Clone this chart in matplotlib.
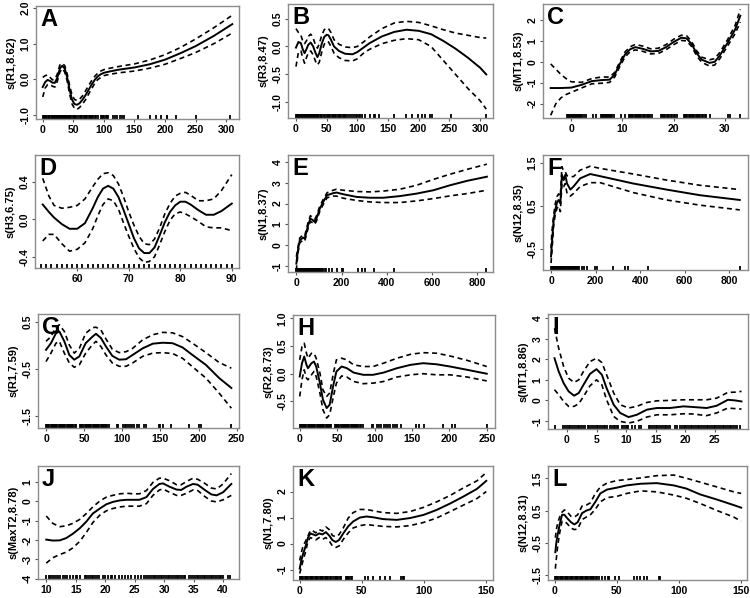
import matplotlib
matplotlib.use('Agg')
import matplotlib.pyplot as plt
from matplotlib import font_manager as fm

# pick the first family that really has a bold face installed
bold_family = 'DejaVu Sans'
for fam in ['Liberation Sans', 'Roboto', 'Noto Sans', 'Open Sans', 'Lato', 'Inter']:
    try:
        path = fm.findfont(fm.FontProperties(family=fam, weight='bold'), fallback_to_default=False)
    except Exception:
        continue
    if 'bold' in path.lower():
        bold_family = fam
        break
plt.rcParams['font.family'] = [bold_family, 'DejaVu Sans']
plt.rcParams['font.weight'] = 'bold'

# ---- panel A : s(R1,8.62)
a_x = [0, 4, 8, 12, 16, 20, 24, 28, 32, 36, 40, 44, 48, 52, 56, 60, 65, 70, 75, 80, 85, 90, 95, 100, 110, 125, 150, 175, 200, 225, 250, 280, 310]
a_fit = [-0.22, -0.08, -0.02, -0.05, -0.1, -0.1, 0.05, 0.3, 0.38, 0.3, 0.05, -0.3, -0.58, -0.7, -0.72, -0.68, -0.58, -0.45, -0.3, -0.15, -0.02, 0.08, 0.14, 0.18, 0.22, 0.27, 0.33, 0.42, 0.55, 0.73, 0.93, 1.22, 1.55]
a_hi = [0.05, 0.1, 0.12, 0.05, -0.02, 0.0, 0.15, 0.4, 0.45, 0.38, 0.15, -0.18, -0.45, -0.57, -0.6, -0.57, -0.47, -0.33, -0.18, -0.04, 0.08, 0.17, 0.23, 0.27, 0.31, 0.36, 0.43, 0.54, 0.69, 0.89, 1.13, 1.45, 1.8]
a_lo = [-0.5, -0.25, -0.15, -0.15, -0.2, -0.22, -0.05, 0.2, 0.3, 0.2, -0.05, -0.42, -0.7, -0.82, -0.85, -0.8, -0.7, -0.58, -0.42, -0.27, -0.12, -0.01, 0.05, 0.1, 0.14, 0.18, 0.23, 0.31, 0.42, 0.58, 0.75, 1.0, 1.3]
a_rug = [0, 2, 3, 5, 6, 8, 10, 11, 13, 15, 16, 18, 20, 21, 23, 25, 26, 28, 30, 31, 33, 35, 36, 38, 40, 41, 43, 45, 47, 49, 51, 53, 55, 57, 61, 63, 65, 67, 69, 71, 73, 75, 77, 79, 81, 83, 85, 87, 91, 95, 97, 99, 101, 103, 105, 107, 115, 118, 122, 126, 130, 133, 156, 176, 185, 194, 203, 204, 218, 250, 306]

# ---- panel B : s(R3,8.47)
b_x = [0, 4, 8, 11, 14, 17, 20, 24, 28, 32, 35, 38, 42, 46, 50, 53, 57, 62, 70, 80, 92, 100, 110, 120, 140, 160, 180, 200, 220, 240, 260, 280, 300, 310]
b_fit = [-0.02, 0.08, 0.06, -0.05, -0.12, -0.05, 0.03, 0.07, 0.0, -0.12, -0.19, -0.12, 0.05, 0.17, 0.21, 0.2, 0.12, 0.0, -0.08, -0.13, -0.14, -0.1, -0.02, 0.06, 0.18, 0.26, 0.3, 0.28, 0.22, 0.1, -0.04, -0.2, -0.38, -0.5]
b_hi = [0.32, 0.25, 0.2, 0.1, 0.05, 0.1, 0.18, 0.22, 0.15, 0.02, -0.03, 0.05, 0.2, 0.3, 0.33, 0.32, 0.25, 0.12, 0.04, -0.01, -0.02, 0.0, 0.08, 0.17, 0.32, 0.42, 0.45, 0.43, 0.37, 0.3, 0.24, 0.2, 0.16, 0.15]
b_lo = [-0.36, -0.1, -0.08, -0.2, -0.3, -0.2, -0.12, -0.08, -0.15, -0.27, -0.33, -0.28, -0.1, 0.04, 0.09, 0.08, 0.0, -0.12, -0.2, -0.25, -0.26, -0.22, -0.12, -0.05, 0.05, 0.11, 0.14, 0.12, 0.0, -0.25, -0.5, -0.75, -0.97, -1.12]
b_rug = [0, 2, 3, 5, 6, 8, 10, 11, 13, 15, 16, 18, 20, 21, 23, 25, 26, 28, 30, 31, 33, 35, 36, 38, 40, 41, 43, 45, 48, 50, 52, 54, 56, 58, 60, 62, 64, 66, 68, 70, 72, 74, 76, 78, 80, 82, 85, 88, 91, 94, 97, 100, 103, 105, 108, 112, 120, 127, 129, 136, 159, 180, 189, 199, 206, 210, 218, 221, 252, 309]

# ---- panel C : s(MT1,8.53)
c_x = [-4, -3, -2, -1, 0, 2, 4, 6, 7.5, 8.5, 9.5, 10.5, 11.5, 12.5, 14, 15.5, 17, 18.5, 20, 21.5, 22.5, 23.5, 24.5, 25.5, 27, 28, 29, 30.5, 32, 33]
c_fit = [-1.25, -1.25, -1.25, -1.24, -1.23, -1.1, -0.92, -0.87, -0.85, -0.6, -0.1, 0.35, 0.6, 0.7, 0.62, 0.5, 0.52, 0.7, 0.95, 1.15, 1.12, 0.85, 0.4, 0.1, -0.05, 0.0, 0.3, 0.9, 1.55, 2.2]
c_hi = [-0.1, -0.35, -0.6, -0.8, -0.95, -0.98, -0.8, -0.72, -0.73, -0.5, 0.0, 0.47, 0.72, 0.83, 0.75, 0.62, 0.65, 0.82, 1.08, 1.27, 1.25, 0.97, 0.52, 0.22, 0.1, 0.15, 0.45, 1.05, 1.75, 2.5]
c_lo = [-2.55, -2.0, -1.72, -1.56, -1.46, -1.25, -1.05, -1.02, -0.98, -0.72, -0.22, 0.23, 0.48, 0.57, 0.5, 0.38, 0.4, 0.58, 0.82, 1.02, 1.0, 0.73, 0.28, -0.03, -0.2, -0.15, 0.15, 0.75, 1.35, 1.9]
c_rug = [-0.8, -0.6, -0.4, -0.2, 0.0, 0.2, 0.4, 0.6, 0.8, 1.0, 1.2, 1.4, 1.6, 1.8, 2.0, 2.2, 2.5, 2.9, 4.2, 4.8,
         5.8, 6.0, 6.2, 6.4, 6.6, 6.8, 7.0, 7.2, 7.4, 7.6, 7.8, 8.0, 8.4, 9.8, 10.5,
         11.3, 11.5, 11.7, 11.9, 12.1, 12.4, 12.6, 12.8, 13.0, 13.3, 13.5, 13.7, 14.0, 14.2, 14.4, 14.7, 14.9, 15.1, 15.4, 15.8,
         17.5, 17.7, 17.9, 18.1, 18.4, 18.6, 18.9, 19.1, 19.4, 19.7, 20.0, 20.3, 20.6,
         22.0, 22.2, 22.4, 22.6, 22.9, 23.1, 23.3, 23.6, 23.8, 24.0, 24.3, 24.5, 24.7, 25.0, 25.2, 25.5, 25.8, 26.1, 26.4, 27.0,
         30.5, 31.0, 33.0]

# ---- panel D : s(H3,6.75)
d_x = [53.3, 54.5, 55.5, 57, 58.5, 60, 61.5, 63, 64, 65, 66, 67, 68, 69, 70, 71, 72, 73, 74, 75, 76, 77, 78, 79, 80, 81, 82, 83.5, 85, 86.5, 88, 90]
d_fit = [0.16, 0.08, 0.02, -0.05, -0.1, -0.1, -0.04, 0.12, 0.24, 0.33, 0.36, 0.33, 0.24, 0.1, -0.05, -0.2, -0.31, -0.36, -0.36, -0.3, -0.17, -0.03, 0.08, 0.15, 0.19, 0.19, 0.16, 0.1, 0.05, 0.05, 0.09, 0.17]
d_hi = [0.44, 0.25, 0.15, 0.12, 0.13, 0.15, 0.22, 0.35, 0.43, 0.49, 0.5, 0.47, 0.38, 0.24, 0.08, -0.06, -0.18, -0.26, -0.27, -0.21, -0.09, 0.06, 0.17, 0.25, 0.28, 0.29, 0.26, 0.2, 0.2, 0.22, 0.31, 0.48]
d_lo = [-0.23, -0.16, -0.16, -0.26, -0.34, -0.32, -0.25, -0.1, 0.04, 0.16, 0.22, 0.2, 0.11, -0.04, -0.18, -0.31, -0.41, -0.46, -0.45, -0.4, -0.27, -0.13, -0.01, 0.06, 0.08, 0.06, 0.03, -0.02, -0.08, -0.09, -0.09, -0.12]
d_rug = [53, 54, 55, 56, 57, 58, 59, 60, 61, 62, 63, 64, 65, 66, 67, 68, 69, 70, 71, 72, 73, 74, 75, 76, 77, 78, 79, 80, 81, 82, 83, 84, 85, 86, 87, 88, 89, 90]

# ---- panel E : s(N1,8.37)
e_x = [0, 7, 15, 30, 37, 52, 62, 74, 81, 89, 104, 119, 136, 163, 178, 207, 267, 326, 385, 459, 533, 607, 681, 756, 844]
e_fit = [-0.88, -0.24, 0.24, 0.37, 0.32, 0.96, 1.28, 1.2, 1.12, 1.28, 1.76, 2.08, 2.4, 2.5, 2.53, 2.45, 2.32, 2.28, 2.28, 2.36, 2.48, 2.64, 2.88, 3.09, 3.29]
e_hi = [-0.55, -0.1, 0.35, 0.5, 0.45, 1.1, 1.42, 1.32, 1.25, 1.4, 1.88, 2.2, 2.52, 2.64, 2.69, 2.64, 2.58, 2.56, 2.6, 2.69, 2.88, 3.16, 3.41, 3.64, 3.89]
e_lo = [-1.2, -0.38, 0.12, 0.25, 0.2, 0.82, 1.14, 1.08, 1.0, 1.16, 1.64, 1.96, 2.28, 2.36, 2.36, 2.26, 2.15, 2.08, 2.05, 2.05, 2.13, 2.24, 2.37, 2.48, 2.64]
e_rug = [0, 3, 6, 9, 12, 15, 18, 21, 24, 27, 30, 33, 36, 39, 42, 45, 48, 51, 54, 57, 60, 63, 66, 70, 74, 78, 82, 86, 90, 94, 98, 102, 106, 110, 114, 118, 127, 133, 144, 156, 181, 200, 207, 274, 289, 304, 344, 433, 841]

# ---- panel F : s(N12,8.35)
f_x = [0, 4, 12, 19, 27, 34, 42, 49, 57, 64, 72, 87, 101, 131, 176, 221, 370, 519, 669, 848]
f_fit = [-0.67, -0.36, 0.18, 0.41, 0.58, 0.64, 0.56, 1.22, 1.1, 1.22, 1.02, 0.88, 0.95, 1.14, 1.24, 1.19, 1.02, 0.88, 0.75, 0.64]
f_hi = [-0.48, -0.1, 0.29, 0.55, 0.72, 0.78, 0.72, 1.41, 1.3, 1.29, 1.2, 1.18, 1.18, 1.33, 1.42, 1.37, 1.24, 1.1, 0.98, 0.88]
f_lo = [-0.82, -0.55, 0.06, 0.3, 0.45, 0.5, 0.37, 1.02, 0.95, 1.02, 0.79, 0.73, 0.79, 0.95, 1.04, 1.04, 0.81, 0.64, 0.52, 0.41]
f_rug = [0, 3, 6, 9, 12, 15, 18, 21, 24, 27, 30, 33, 36, 39, 42, 45, 48, 51, 54, 57, 60, 64, 68, 72, 76, 80, 84, 88, 92, 96, 100, 104, 108, 112, 116, 120, 124, 139, 149, 161, 199, 206, 278, 333, 348, 434, 851]

# ---- panel G : s(R1,7.59)
g_x = [0, 6.5, 13, 17.5, 24, 30.6, 37, 43.7, 52, 61, 65.5, 72, 78.6, 87, 96, 105, 113.5, 126.6, 140, 153, 166, 179, 192, 209.6, 227, 243]
g_fit = [-0.1, 0.04, 0.25, 0.29, 0.08, -0.21, -0.31, -0.24, 0.04, 0.18, 0.24, 0.15, -0.03, -0.23, -0.31, -0.3, -0.21, -0.07, 0.03, 0.05, 0.04, -0.05, -0.21, -0.42, -0.7, -0.91]
g_hi = [0.08, 0.18, 0.38, 0.43, 0.29, 0.0, -0.17, -0.07, 0.25, 0.37, 0.38, 0.32, 0.13, -0.09, -0.16, -0.14, -0.07, 0.11, 0.22, 0.27, 0.26, 0.18, 0.04, -0.16, -0.37, -0.49]
g_lo = [-0.35, -0.17, 0.04, 0.08, -0.17, -0.38, -0.47, -0.42, -0.17, 0.01, 0.08, -0.03, -0.21, -0.38, -0.45, -0.45, -0.38, -0.24, -0.17, -0.16, -0.18, -0.28, -0.46, -0.7, -1.02, -1.34]
g_rug = [0, 1.5, 3, 4.5, 6, 7.5, 9, 10.5, 12, 13.5, 15, 16.5, 18, 19.5, 21, 22.5, 24, 25.5, 27, 28.5, 30, 31.5, 33, 34.5, 36, 37.5, 39,
         44.5, 46, 47.5, 49, 50.5, 52, 53.5, 55, 56.5, 58, 59.5, 61, 62.5, 64, 65.5, 67, 68.5, 70, 71.5, 73, 74.5, 76, 77.5, 79, 80.5, 83,
         92.6, 95, 101, 103, 105, 107, 110, 113, 116, 119, 122, 129, 131, 148, 150, 153, 164, 188, 200, 203, 243]

# ---- panel H : s(R2,8.73)
h_x = [0, 3, 6, 9, 11, 15.7, 19, 22, 27, 31, 36, 40, 45, 49, 56, 63, 72, 85, 98, 112, 130, 148, 165, 183, 201, 224, 250]
h_fit = [-0.05, 0.19, 0.31, 0.16, 0.1, 0.19, 0.22, 0.13, -0.17, -0.47, -0.62, -0.56, -0.2, 0.04, 0.13, 0.1, 0.02, -0.02, -0.02, 0.02, 0.1, 0.16, 0.19, 0.17, 0.13, 0.07, 0.0]
h_hi = [0.25, 0.49, 0.55, 0.37, 0.28, 0.37, 0.37, 0.28, 0.01, -0.29, -0.41, -0.35, 0.01, 0.25, 0.28, 0.25, 0.16, 0.13, 0.13, 0.19, 0.28, 0.35, 0.38, 0.37, 0.32, 0.24, 0.13]
h_lo = [-0.41, -0.11, 0.07, -0.08, -0.11, -0.02, 0.04, -0.05, -0.35, -0.65, -0.8, -0.74, -0.41, -0.17, -0.04, -0.06, -0.14, -0.18, -0.17, -0.14, -0.06, -0.02, 0.0, -0.02, -0.02, -0.06, -0.13]
h_rug = [0, 1.5, 3, 4.5, 6, 7.5, 9, 10.5, 12, 13.5, 15, 16.5, 18, 19.5, 21, 22.5, 24, 25.5, 27, 28.5, 30, 31.5, 33, 34.5, 36, 37.5, 39, 40.5, 42,
         47, 48.5, 50, 51.5, 53, 54.5, 56, 57.5, 59, 60.5, 62, 63.5, 65, 66.5, 68, 69.5, 71, 72.5, 74, 75.5, 77, 78.5, 80, 82, 85,
         96, 98, 103, 106, 109, 112, 115, 118, 121, 124, 127, 130, 136, 156, 159, 166, 192, 204, 208, 250]

# ---- panel I : s(MT1,8.86)
i_x = [-2.1, -1.4, -0.56, 0.28, 1.2, 2, 2.8, 3.9, 5, 5.9, 6.7, 7.9, 9, 10.4, 11.8, 13.5, 15.2, 17.4, 19.7, 21.3, 23.6, 25.3, 27.2, 28.4, 29.5]
i_fit = [2.05, 1.41, 0.84, 0.44, 0.23, 0.36, 0.76, 1.29, 1.52, 1.25, 0.6, -0.21, -0.61, -0.81, -0.7, -0.45, -0.37, -0.37, -0.29, -0.32, -0.37, -0.26, 0.03, 0.0, -0.05]
i_hi = [3.51, 2.54, 1.65, 1.08, 0.87, 1.0, 1.41, 1.89, 2.05, 1.84, 1.25, 0.36, -0.21, -0.37, -0.29, -0.1, -0.02, 0.0, 0.03, 0.03, 0.03, 0.11, 0.39, 0.4, 0.44]
i_lo = [0.52, 0.28, -0.05, -0.29, -0.29, -0.16, 0.19, 0.71, 1.0, 0.76, 0.03, -0.78, -1.02, -1.1, -1.02, -0.81, -0.7, -0.7, -0.65, -0.66, -0.74, -0.61, -0.37, -0.4, -0.42]
i_rug = [-2.0, -0.6, -0.3, 0.0, 0.3, 0.6, 0.9, 1.2, 1.5, 1.8, 2.1, 2.4, 2.7, 3.1,
         3.5, 3.8, 4.1, 4.4, 4.7, 5.0, 5.3, 5.6, 5.9, 6.2, 6.5, 6.7,
         7.3, 7.6, 7.9, 8.2, 8.5, 8.7, 9.3, 9.6, 9.9, 10.2, 10.4, 11.0, 11.5, 12.1, 12.6,
         13.8, 14.1, 14.4, 14.7, 15.0, 15.3, 15.6, 15.9, 16.2, 16.5, 16.8, 17.1, 17.4, 18.3, 18.6, 19.1,
         19.4, 19.7, 20.0, 20.3, 20.6, 20.9, 21.2, 21.5, 21.8, 22.1, 22.4, 22.7, 23.0, 23.3, 23.6, 23.9,
         24.2, 24.5, 24.8, 25.1, 25.4, 25.7, 26.0, 26.3, 26.6, 26.9, 27.2, 27.5, 27.8, 28.1, 28.4, 28.7, 29.2]

# ---- panel J : s(MaxT2,8.78)
j_x = [10, 11.1, 12.3, 13.4, 14.5, 15.7, 16.8, 17.9, 19.1, 20.2, 21.3, 22.5, 23.6, 24.7, 25.8, 27, 28.1, 29.2, 29.8, 30.9, 32.1, 32.9, 33.8, 34.9, 35.7, 36.9, 38, 38.9, 40, 41.4]
j_fit = [-1.98, -2.03, -2.02, -1.9, -1.68, -1.39, -1.05, -0.63, -0.37, -0.15, -0.03, 0.05, 0.08, 0.08, 0.08, 0.22, 0.64, 0.9, 0.93, 0.76, 0.61, 0.59, 0.76, 0.9, 0.86, 0.59, 0.36, 0.31, 0.47, 0.9]
j_hi = [-0.76, -1.14, -1.31, -1.27, -1.14, -0.93, -0.63, -0.29, 0.02, 0.22, 0.31, 0.39, 0.42, 0.39, 0.39, 0.56, 0.98, 1.2, 1.2, 1.07, 0.86, 0.86, 1.03, 1.2, 1.14, 0.93, 0.69, 0.64, 0.9, 1.44]
j_lo = [-3.2, -2.92, -2.75, -2.63, -2.41, -2.07, -1.61, -1.1, -0.71, -0.49, -0.37, -0.29, -0.25, -0.25, -0.25, -0.12, 0.31, 0.59, 0.64, 0.47, 0.31, 0.31, 0.42, 0.59, 0.56, 0.25, 0.02, -0.03, 0.08, 0.31]
j_rug = [10.0, 10.4, 10.7, 11.0, 11.3, 11.6, 12.0, 12.4, 12.8, 13.2, 13.6, 14.0, 14.5, 15.0, 15.3, 15.8, 16.5, 16.8, 17.1, 17.4, 17.7, 18.0, 18.3, 18.6, 19.0,
         19.6, 20.0, 20.4, 20.9, 21.2, 21.6, 22.3, 22.8, 23.3, 23.9, 24.4, 25.0, 25.5, 26.0, 26.5, 27.0,
         27.3, 27.6, 27.9, 28.2, 28.5, 28.8, 29.1, 29.4, 29.7, 30.0, 30.3, 30.6, 30.9, 31.2, 31.5, 31.8, 32.1, 32.4, 32.7, 33.0, 33.3, 33.6,
         34.3, 34.6, 34.9, 35.2, 35.5, 35.8, 36.1, 36.4, 36.7, 37.0, 37.3, 37.6, 37.9, 38.2, 38.5, 38.8, 39.1, 39.4, 39.7, 40.0, 40.8, 41.2]

# ---- panel K : s(N1,7.80)
k_x = [0, 1.3, 2.7, 4.8, 6.7, 8.6, 10.8, 12.9, 15.6, 18.3, 21, 23.7, 26.3, 29, 31.7, 35, 39, 43, 48.4, 53.8, 59, 67, 78, 88.7, 99.5, 110, 121, 131.7, 142.5, 150]
k_fit = [-0.96, -0.65, -0.4, -0.09, 0.23, 0.39, 0.35, 0.31, 0.39, 0.35, 0.44, 0.31, 0.13, 0.06, 0.14, 0.39, 0.66, 0.85, 1.0, 1.04, 1.01, 0.94, 0.91, 0.98, 1.1, 1.29, 1.54, 1.81, 2.1, 2.41]
k_hi = [-0.65, -0.35, -0.09, 0.1, 0.3, 0.51, 0.48, 0.41, 0.54, 0.48, 0.64, 0.54, 0.31, 0.26, 0.35, 0.6, 0.98, 1.19, 1.31, 1.31, 1.26, 1.19, 1.16, 1.23, 1.39, 1.6, 1.85, 2.14, 2.41, 2.73]
k_lo = [-1.15, -0.9, -0.65, -0.3, 0.1, 0.23, 0.19, 0.14, 0.23, 0.16, 0.23, 0.1, -0.09, -0.15, -0.09, 0.16, 0.41, 0.6, 0.69, 0.73, 0.7, 0.66, 0.64, 0.69, 0.81, 0.98, 1.23, 1.48, 1.73, 2.0]
k_rug = [0, 1, 2, 3, 4, 5, 6, 7, 8, 9, 10, 11, 12, 13, 14, 15, 16, 17, 18, 19, 20, 21, 22, 23, 24, 25.5, 27, 28, 29, 30, 31, 32, 33.5,
         37, 38, 39, 40, 41, 41.7, 52.4, 55, 59, 64.5, 68.5, 72.6, 81.2, 82.8, 84]

# ---- panel L : s(N12,8.31)
l_x = [0.5, 1.3, 2.4, 4, 5.9, 7.8, 9.9, 13.1, 15.8, 18.5, 22, 25.5, 28.7, 32.7, 36.7, 42, 50, 58, 69, 82, 95.7, 106, 117, 130.6, 144, 150]
l_fit = [-0.79, -0.49, -0.24, 0.07, 0.37, 0.37, 0.27, 0.14, 0.07, 0.14, 0.42, 0.5, 0.54, 0.77, 1.03, 1.15, 1.21, 1.28, 1.33, 1.35, 1.28, 1.18, 1.0, 0.84, 0.67, 0.59]
l_hi = [-0.34, -0.1, 0.12, 0.3, 0.45, 0.52, 0.47, 0.32, 0.3, 0.37, 0.64, 0.67, 0.74, 1.03, 1.23, 1.35, 1.43, 1.46, 1.51, 1.58, 1.6, 1.5, 1.38, 1.23, 1.08, 1.03]
l_lo = [-1.3, -0.99, -0.59, -0.19, 0.17, 0.17, 0.1, -0.04, -0.09, -0.07, 0.22, 0.3, 0.37, 0.54, 0.77, 0.9, 0.94, 1.03, 1.11, 1.08, 0.98, 0.88, 0.72, 0.5, 0.3, 0.17]
l_rug = [0, 1, 2, 3, 4, 5, 6, 7, 8, 9, 10, 11, 12, 13, 14, 15, 16, 17, 18, 19, 20, 21, 22, 23, 24, 25, 26, 27, 28, 29, 30, 31, 32, 33, 34,
         36, 38, 40.5, 42.5, 44, 48.8, 51.5, 63.5, 66, 69, 72, 74, 83.6, 85]

# panel letter, y label, data, then layout: box in pixels (left, top, right, bottom), limits, ticks
panels = [
    ('A', 's(R1,8.62)', a_x, a_fit, a_hi, a_lo, a_rug, (36, 6, 239, 119), (-11, 321), (-1.12, 2.06), [0, 50, 100, 150, 200, 250, 300], [-1.0, 0.0, 1.0, 2.0], '%.1f'),
    ('B', 's(R3,8.47)', b_x, b_fit, b_hi, b_lo, b_rug, (288, 4, 493, 118), (-13, 321), (-1.28, 0.76), [0, 50, 100, 150, 200, 250, 300], [-1.0, -0.5, 0.0, 0.5], '%.1f'),
    ('C', 's(MT1,8.53)', c_x, c_fit, c_hi, c_lo, c_rug, (543, 4, 748, 118), (-5.5, 34.5), (-2.68, 2.76), [0, 10, 20, 30], [-2, -1, 0, 1, 2], '%d'),
    ('D', 's(H3,6.75)', d_x, d_fit, d_hi, d_lo, d_rug, (35, 155, 239, 268), (51.8, 91.4), (-0.52, 0.69), [60, 70, 80, 90], [-0.4, 0.0, 0.4], '%.1f'),
    ('E', 's(N1,8.37)', e_x, e_fit, e_hi, e_lo, e_rug, (288, 155, 493, 272), (-37, 871), (-1.28, 4.33), [0, 200, 400, 600, 800], [-1, 0, 1, 2, 3, 4], '%d'),
    ('F', 's(N12,8.35)', f_x, f_fit, f_hi, f_lo, f_rug, (543, 155, 748, 270), (-36, 885), (-0.98, 1.68), [0, 200, 400, 600, 800], [-0.5, 0.5, 1.5], '%.1f'),
    ('G', 's(R1,7.59)', g_x, g_fit, g_hi, g_lo, g_rug, (38, 314, 239, 428), (-10.5, 253), (-1.76, 0.66), [0, 50, 100, 150, 200, 250], [-1.5, -0.5, 0.5], '%.1f'),
    ('H', 's(R2,8.73)', h_x, h_fit, h_hi, h_lo, h_rug, (293, 315, 495, 428), (-9, 261), (-0.98, 1.06), [0, 50, 100, 150, 200, 250], [-0.5, 0.0, 0.5, 1.0], '%.1f'),
    ('I', 's(MT1,8.86)', i_x, i_fit, i_hi, i_lo, i_rug, (548, 314, 748, 429), (-3.2, 30.6), (-1.39, 4.2), [0, 5, 10, 15, 20, 25], [-1, 0, 1, 2, 3, 4], '%d'),
    ('J', 's(MaxT2,8.78)', j_x, j_fit, j_hi, j_lo, j_rug, (38, 466, 239, 579), (8.6, 42.7), (-4.02, 1.83), [10, 15, 20, 25, 30, 35, 40], [-4, -3, -2, -1, 0, 1], '%d'),
    ('K', 's(N1,7.80)', k_x, k_fit, k_hi, k_lo, k_rug, (293, 466, 493, 580), (-5.4, 155.4), (-1.4, 2.98), [0, 50, 100, 150], [-1, 0, 1, 2], '%d'),
    ('L', 's(N12,8.31)', l_x, l_fit, l_hi, l_lo, l_rug, (548, 466, 747, 580), (-5.4, 154.7), (-1.65, 1.88), [0, 50, 100, 150], [-1.5, -0.5, 0.5, 1.5], '%.1f'),
]

W, H = 750, 598
fig = plt.figure(figsize=(W / 100, H / 100), dpi=100)
fig.patch.set_facecolor('white')

for (letter, ylab, xs, fit, hi, lo, rug, box, xlim, ylim, xt, yt, fmt) in panels:
    l, t, r, b = box
    ax = fig.add_axes([l / W, 1 - b / H, (r - l) / W, (b - t) / H])
    ax.plot(xs, fit, color='black', lw=1.4, solid_joinstyle='round')
    ax.plot(xs, hi, color='black', lw=1.2, linestyle=(0, (3.0, 2.2)))
    ax.plot(xs, lo, color='black', lw=1.2, linestyle=(0, (3.0, 2.2)))
    # rug of observed values along the bottom edge
    ax.vlines(rug, 0, 0.038, transform=ax.get_xaxis_transform(), color='black', lw=1.3)
    ax.set_xlim(*xlim)
    ax.set_ylim(*ylim)
    ax.set_xticks(xt)
    ax.set_xticklabels([str(v) for v in xt], fontsize=7.5, fontweight='bold')
    ax.set_yticks(yt)
    ax.set_yticklabels([fmt % v for v in yt], fontsize=7.5, fontweight='bold',
                       rotation=90, va='center')
    for s in ax.spines.values():
        s.set_color('#8c8c8c')
        s.set_linewidth(1.0)
    ax.tick_params(axis='both', direction='out', length=2.5, width=0.8, color='#555555', pad=1.5)
    ax.set_ylabel(ylab, fontsize=8, fontweight='bold', labelpad=3)
    ax.text(0.02, 0.98, letter, transform=ax.transAxes, ha='left', va='top',
            fontsize=17, fontweight='bold')

fig.savefig('out.png', dpi=100, facecolor='white')
